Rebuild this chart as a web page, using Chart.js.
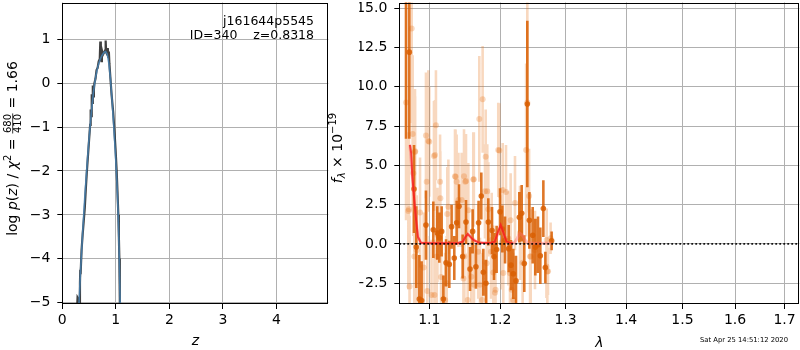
<!DOCTYPE html>
<html><head><meta charset="utf-8">
<script src="https://cdn.jsdelivr.net/npm/chart.js@4.4.0/dist/chart.umd.min.js"></script>
<style>
html,body{margin:0;padding:0;background:#fff;}
#wrap{position:relative;width:800px;height:350px;background:#fff;}
canvas{position:absolute;left:0;top:0;}
</style></head><body>
<div id="wrap"><canvas id="c1" width="800" height="350"></canvas><canvas id="c2" width="800" height="350"></canvas></div>
<script>
// ---------- data: left panel (redshift PDF) ----------
const pzZ   = [0.270,0.285,0.295,0.300,0.315,0.330,0.336,0.342,0.360,0.380,0.400,0.420,0.440,0.460,0.480,0.500,0.520,0.530,0.540,0.550,0.560,0.570,0.580,0.590,0.600,0.620,0.640,0.660,0.680,0.700,0.710,0.720,0.730,0.740,0.760,0.780,0.800,0.810,0.820,0.840,0.850,0.860,0.870,0.880,0.900,0.920,0.950,0.970,0.995,1.016,1.032,1.047,1.057,1.066,1.072,1.078,1.085];
const pzLog = [-5.30,-4.88,-4.90,-5.10,-5.00,-4.55,-4.25,-4.35,-3.80,-3.45,-3.15,-2.85,-2.40,-2.00,-1.65,-1.30,-0.95,-0.60,-0.75,-0.25,-0.45,-0.05,-0.30,-0.15,0.00,0.10,0.30,0.35,0.50,0.55,0.95,0.60,0.50,0.75,0.65,0.70,0.75,0.97,0.70,0.65,0.80,0.60,0.72,0.45,0.10,-0.25,-0.65,-1.00,-1.50,-2.00,-2.50,-3.00,-3.50,-4.00,-4.50,-5.00,-5.60];
const pzFitZ   = [0.300,0.340,0.380,0.420,0.460,0.500,0.540,0.580,0.620,0.660,0.700,0.740,0.780,0.810,0.840,0.870,0.900,0.930,0.960,0.990,1.020,1.045,1.065,1.080,1.090];
const pzFitLog = [-5.30,-4.30,-3.40,-2.60,-1.90,-1.25,-0.70,-0.22,0.12,0.36,0.52,0.63,0.70,0.72,0.66,0.45,0.10,-0.40,-0.95,-1.55,-2.25,-3.00,-4.00,-5.00,-5.60];
const zTicks    = [0,1,2,3,4];
const logpTicks = [-5,-4,-3,-2,-1,0,1];

// ---------- data: right panel (spectrum) ----------
const binWave = [1.0691,1.0734,1.0796,1.0826,1.0866,1.0897,1.0955,1.1054,1.1108,1.1136,1.1168,1.1191,1.1228,1.1273,1.1305,1.1342,1.1375,1.1408,1.1459,1.1506,1.1563,1.1600,1.1647,1.1685,1.1724,1.1753,1.1791,1.1825,1.1879,1.1908,1.1946,1.1996,1.2030,1.2070,1.2124,1.2158,1.2193,1.2233,1.2283,1.2319,1.2358,1.2404,1.2435,1.2486,1.2526,1.2567,1.2603,1.2650,1.2681,1.2779];
const binFlux = [17.0,12.2,3.5,-0.2,-3.5,-3.6,1.2,0.9,0.7,0.4,0.8,-3.5,-1.2,-1.3,1.1,-0.9,1.35,2.4,-0.8,1.4,-1.6,0.8,-1.45,1.35,3.05,-1.8,-2.5,1.4,0.85,-0.8,-0.35,2.05,0.95,0.25,-0.3,-1.35,-1.9,-2.35,1.7,1.95,-1.25,8.9,1.5,0.55,-0.2,-0.05,-0.75,2.25,-1.5,0.2];
const binErr  = [10.3,5.5,2.8,2.6,2.8,2.5,2.2,1.8,1.7,1.6,1.6,1.5,1.5,1.5,1.4,1.4,1.4,1.4,1.4,1.4,1.4,1.4,1.4,1.4,1.5,1.5,1.5,1.5,1.5,1.5,1.5,1.5,1.5,1.5,1.5,1.6,1.6,1.6,1.6,1.8,1.8,5.3,1.8,1.8,1.8,1.8,1.8,1.8,1.0,0.6];

const rawWave = [1.0691,1.0721,1.0728,1.0737,1.0765,1.0778,1.0787,1.0800,1.0809,1.0811,1.0831,1.0876,1.0925,1.0955,1.0965,1.0973,1.0987,1.1000,1.1030,1.1063,1.1070,1.1077,1.1090,1.1100,1.1110,1.1146,1.1150,1.1160,1.1216,1.1237,1.1245,1.1260,1.1352,1.1360,1.1375,1.1400,1.1445,1.1470,1.1478,1.1483,1.1496,1.1506,1.1530,1.1539,1.1581,1.1609,1.1617,1.1619,1.1680,1.1695,1.1705,1.1735,1.1743,1.1777,1.1787,1.1801,1.1810,1.1825,1.1865,1.1874,1.1898,1.1922,1.1930,1.1970,1.1986,1.2020,1.2035,1.2044,1.2084,1.2119,1.2143,1.2153,1.2168,1.2192,1.2218,1.2293,1.2333,1.2386,1.2404,1.2431,1.2446,1.2455,1.2521,1.2698,1.2702,1.2712,1.2722,1.2763];
const rawFlux = [9.0,2.1,2.2,-2.7,13.7,7.0,4.5,-0.8,5.85,5.9,-0.4,2.0,-1.5,6.9,3.96,-3.0,6.55,6.5,-3.24,5.6,-3.24,5.66,7.55,-0.8,0.57,3.96,2.9,-2.1,-3.56,-2.5,1.9,2.37,4.3,4.28,3.96,2.8,2.8,-2.2,4.3,-0.8,3.96,4.0,-3.56,2.15,-2.08,4.1,4.11,-2.6,-0.49,7.95,-2.6,-3.56,9.2,3.35,5.55,-1.23,3.35,2.2,-0.49,0.25,-1.82,-3.1,-2.92,5.98,5.95,0.1,3.43,-1.85,3.3,0.35,-1.86,1.5,-2.92,-3.56,2.6,0.7,-1.2,5.98,9.0,3.05,-0.8,-0.8,-0.38,-1.44,0.25,-1.75,-1.74,0.36];
const rawErr  = [7.5,5.0,4.5,4.5,6.0,5.0,4.0,3.5,4.0,3.5,3.5,3.5,3.5,4.0,3.5,3.5,4.5,3.5,3.5,3.5,3.5,3.5,3.5,3.0,3.0,3.0,3.0,3.0,3.0,3.0,3.0,3.0,3.0,3.0,3.0,3.0,3.0,3.0,3.0,3.0,3.0,3.0,3.0,3.0,3.0,3.0,3.0,3.0,3.0,4.0,3.0,3.0,3.4,3.0,3.0,3.0,3.0,3.0,3.0,3.0,3.0,3.0,3.0,3.0,3.0,3.0,3.0,3.0,3.0,3.0,3.0,3.0,3.0,3.0,3.0,3.0,3.0,5.5,7.0,3.0,3.0,3.0,2.5,2.0,2.0,2.0,1.5,1.0];

const modelWave = [1.0742,1.0758,1.0774,1.0799,1.0824,1.0848,1.0887,1.1000,1.1200,1.1400,1.1460,1.1500,1.1530,1.1560,1.1610,1.1680,1.1750,1.1850,1.1920,1.1960,1.2006,1.2040,1.2090,1.2150,1.2190];
const modelFlux = [6.30,5.80,4.30,2.80,1.50,0.45,0.08,0.05,0.05,0.06,0.15,0.45,0.63,0.50,0.25,0.10,0.06,0.06,0.15,0.70,1.21,0.80,0.15,0.06,0.05];
const fullWave = [1.0742,1.0774,1.0799,1.0824,1.0848,1.0887,1.1400,1.1460,1.1500,1.1530,1.1560,1.1610,1.1680,1.1900,1.1950,1.2006,1.2050,1.2100,1.2210,1.2250,1.2290,1.2330,1.2370,1.2410,1.2500,1.2780];
const fullFlux = [6.30,4.30,2.80,1.50,0.45,0.08,0.05,0.15,0.45,0.63,0.50,0.25,0.10,0.06,0.50,1.10,0.60,0.10,0.08,0.35,0.68,0.55,0.25,0.08,0.05,0.05];
const waveTicks = [1.1,1.2,1.3,1.4,1.5,1.6,1.7];
const fluxTicks = [-2.5,0,2.5,5,7.5,10,12.5,15];
const waveRange = [1.0603,1.731];
const zeroLevel = [0,0];

// ---------- helpers ----------
Chart.defaults.font.family = 'DejaVu Sans';
Chart.defaults.color = '#000';
const FS = 14;
function fmt(v,d){ return (v<0?'\u2212':'') + Math.abs(v).toFixed(d); }
function pts(xs,ys){ return xs.map((x,i)=>({x:x,y:ys[i]})); }
function seg(w,f,e){ const o=[]; for(let i=0;i<w.length;i++){ o.push({x:w[i],y:f[i]-e[i]},{x:w[i],y:f[i]+e[i]},{x:w[i],y:null}); } return o; }
function gridOpts(){ return {color:'#b0b0b0', lineWidth:1, tickLength:5, tickColor:'#000', tickWidth:1, drawTicks:true}; }
function noPad(s){ s.paddingTop=0; s.paddingBottom=0; s.paddingLeft=0; s.paddingRight=0; }

function drawRun(ctx, parts, B, cy){
  let total = 0;
  parts.forEach(p=>{
    ctx.font=p.f;
    if (p.frac){ p.w = Math.max(ctx.measureText(p.frac[0]).width, ctx.measureText(p.frac[1]).width)+2; }
    else { p.w = ctx.measureText(p.t).width; }
    total += p.w;
  });
  ctx.save();
  ctx.translate(B, cy); ctx.rotate(-Math.PI/2);
  let x = -total/2;
  ctx.fillStyle = '#000'; ctx.strokeStyle='#000';
  ctx.textBaseline = 'alphabetic'; ctx.textAlign='left';
  parts.forEach(p=>{
    ctx.font = p.f;
    if (p.frac){
      const bar = -3.8;
      ctx.lineWidth = 0.8;
      ctx.beginPath(); ctx.moveTo(x+0.5, bar); ctx.lineTo(x+p.w-0.5, bar); ctx.stroke();
      const wn = ctx.measureText(p.frac[0]).width, wd = ctx.measureText(p.frac[1]).width;
      ctx.fillText(p.frac[0], x+(p.w-wn)/2, bar-1.6);
      ctx.fillText(p.frac[1], x+(p.w-wd)/2, bar+8.6);
    } else {
      ctx.fillText(p.t, x, p.dy||0);
    }
    x += p.w;
  });
  ctx.restore();
}

function boxPlugin(id){ return {
  id: id,
  afterDatasetsDraw(chart){
    const {ctx, chartArea:a} = chart;
    ctx.save();
    ctx.strokeStyle='#000'; ctx.lineWidth=1;
    const l=Math.round(a.left)+0.5, t=Math.round(a.top)+0.5, r=Math.round(a.right)-0.5, b=Math.round(a.bottom)-0.5;
    ctx.strokeRect(l,t,r-l,b-t);
    ctx.restore();
  }
};}

const F  = FS+'px DejaVu Sans';
const I  = 'italic '+FS+'px DejaVu Sans';
const S  = '10px DejaVu Sans';
const SI = 'italic 10px DejaVu Sans';

const leftText = {
  id:'leftText',
  afterDraw(chart){
    const ctx = chart.ctx;
    ctx.save();
    ctx.fillStyle='#000';
    ctx.font='12.5px DejaVu Sans'; ctx.textAlign='right'; ctx.textBaseline='alphabetic';
    ctx.fillText('j161644p5545', 314, 24.5);
    ctx.fillText('ID=340    z=0.8318', 314, 38.5);
    ctx.font = I; ctx.textAlign='center';
    ctx.fillText('z', 195.3, 345);
    ctx.restore();
    drawRun(ctx, [
      {t:'log',f:F},{t:' ',f:F},{t:'p',f:I},{t:'(',f:F},{t:'z',f:I},{t:')',f:F},{t:' / ',f:F},
      {t:'\u03c7',f:I},{t:'2',f:S,dy:-5.5},{t:' = ',f:F},{frac:['680','410'],f:S},{t:' = 1.66',f:F}
    ], 16.5, 148.5);
  }
};
const rightText = {
  id:'rightText',
  afterDraw(chart){
    const ctx = chart.ctx;
    ctx.save();
    ctx.fillStyle='#000';
    ctx.font = I; ctx.textAlign='center'; ctx.textBaseline='alphabetic';
    ctx.fillText('\u03bb', 599.3, 346.5);
    ctx.font='6.8px DejaVu Sans'; ctx.textAlign='right';
    ctx.fillText('Sat Apr 25 14:51:12 2020', 788, 341.5);
    ctx.restore();
    drawRun(ctx, [
      {t:'f',f:I},{t:'\u03bb',f:SI,dy:3},{t:' \u00d7 10',f:F},{t:'\u221219',f:S,dy:-6}
    ], 342, 148);
  }
};

// ---------- left chart ----------
new Chart(document.getElementById('c1'), {
  type:'line',
  data:{ datasets:[
    {data:pts(pzFitZ,pzFitLog), borderColor:'rgba(70,130,180,0.85)', borderWidth:1.6, pointRadius:0, tension:0, order:0, clip:0},
    {data:pts(pzZ,pzLog), borderColor:'rgba(30,30,30,0.85)', borderWidth:2.2, pointRadius:0, tension:0, order:1, clip:0}
  ]},
  options:{
    responsive:false, animation:false, devicePixelRatio:1,
    layout:{autoPadding:false, padding:{left:0, top:2.5, right:471.7, bottom:0}},
    plugins:{legend:{display:false}, tooltip:{enabled:false}},
    scales:{
      x:{type:'linear', min:0, max:4.97, bounds:'data',
         afterBuildTicks:s=>{s.ticks=zTicks.map(v=>({value:v}));},
         afterFit:s=>{s.height=46; noPad(s);},
         grid:gridOpts(), border:{display:false},
         ticks:{font:{size:FS}, color:'#000', padding:3, maxRotation:0, autoSkip:false, callback:v=>fmt(v,0)}},
      y:{type:'linear', min:-5.03, max:1.838, bounds:'data',
         afterBuildTicks:s=>{s.ticks=logpTicks.map(v=>({value:v}));},
         afterFit:s=>{s.width=62.3; noPad(s);},
         grid:gridOpts(), border:{display:false},
         ticks:{font:{size:FS}, color:'#000', padding:7, autoSkip:false, callback:v=>fmt(v,0)}}
    }
  },
  plugins:[boxPlugin('box1'), leftText]
});

// ---------- right chart ----------
const DARK='rgba(217,95,2,0.85)', LIGHT='rgba(230,110,20,0.27)';
new Chart(document.getElementById('c2'), {
  type:'line',
  data:{ datasets:[
    {data:pts(waveRange,zeroLevel), borderColor:'rgba(0,0,0,0.9)', borderWidth:1.8, borderDash:[1.8,2.2], pointRadius:0, order:0, clip:0},
    {data:pts(modelWave,modelFlux), borderColor:'rgba(245,20,20,0.75)', borderWidth:2, pointRadius:0, tension:0, order:1, clip:0},
    {data:pts(fullWave,fullFlux), borderColor:'rgba(255,110,110,0.45)', borderWidth:3, pointRadius:0, tension:0, order:2, clip:0},
    {data:pts(binWave,binFlux), showLine:false, pointRadius:2.8, pointBackgroundColor:DARK, pointBorderWidth:0, order:3, clip:0},
    {data:seg(binWave,binFlux,binErr), borderColor:DARK, borderWidth:2.6, pointRadius:0, spanGaps:false, order:4, clip:0},
    {data:pts(rawWave,rawFlux), showLine:false, pointRadius:3, pointBackgroundColor:LIGHT, pointBorderWidth:0, order:5, clip:0},
    {data:seg(rawWave,rawFlux,rawErr), borderColor:LIGHT, borderWidth:2.6, pointRadius:0, spanGaps:false, order:6, clip:0}
  ]},
  options:{
    responsive:false, animation:false, devicePixelRatio:1,
    layout:{autoPadding:false, padding:{left:359.3, top:2.5, right:0.7, bottom:0}},
    plugins:{legend:{display:false}, tooltip:{enabled:false}},
    scales:{
      x:{type:'logarithmic', min:waveRange[0], max:waveRange[1], bounds:'data',
         afterBuildTicks:s=>{s.ticks=waveTicks.map(v=>({value:v}));},
         afterFit:s=>{s.height=46; noPad(s);},
         grid:gridOpts(), border:{display:false},
         ticks:{font:{size:FS}, color:'#000', padding:3, maxRotation:0, autoSkip:false, callback:v=>fmt(v,1)}},
      y:{type:'linear', min:-3.82, max:15.36, bounds:'data',
         afterBuildTicks:s=>{s.ticks=fluxTicks.map(v=>({value:v}));},
         afterFit:s=>{s.width=40; noPad(s);},
         grid:gridOpts(), border:{display:false},
         ticks:{font:{size:FS}, color:'#000', padding:7, autoSkip:false, callback:v=>fmt(v,1)}}
    }
  },
  plugins:[boxPlugin('box2'), rightText]
});
</script>
</body></html>
